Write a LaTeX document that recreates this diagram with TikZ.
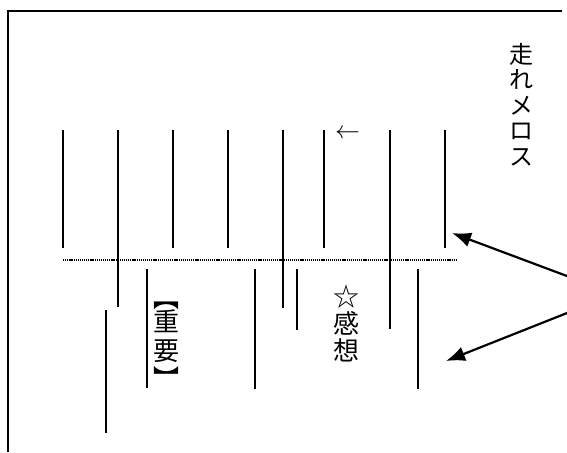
\documentclass[tikz,border=0pt]{standalone}
\usepackage{fontspec}
\newfontfamily\jp{Noto Sans CJK JP}
\usetikzlibrary{arrows.meta}
\begin{document}
\begin{tikzpicture}[x=1pt,y=-1pt,
  rule/.style={line width=2pt},
  frameline/.style={line width=2pt},
  dotline/.style={line width=2.4pt, dash pattern=on 1.2pt off 0.9pt},
  pointer/.style={line width=2.2pt, -{Latex[length=19pt,width=15pt]}},
  jpchar/.style={font=\jp\fontsize{26}{27}\selectfont, inner sep=0pt, anchor=north},
  vtext/.style={jpchar, align=center}]
\useasboundingbox (0,0) rectangle (567,452);
\fill[white] (0,0) rectangle (567,452);
% frame
\draw[frameline] (8,452) -- (8,11) -- (562,11);
% upper ruled lines
\foreach \x/\yb in {63/248,118/307,173/248,228/248,283/308,324/248,390/329,445/248}
  \draw[rule] (\x,130) -- (\x,\yb);
% dotted line
\draw[dotline] (63,260) -- (456,260);
% lower ruled lines
\foreach \x/\ya/\yb in {146.5/269/388,254.6/269/389,297.3/269/330,418.4/269/389,106/310/433}
  \draw[rule] (\x,\ya) -- (\x,\yb);
% texts
\node[vtext, font=\jp\fontsize{24}{25.5}\selectfont] (title) at (521,43) {走\\れ\\メ\\ロ\\ス};
\node[inner sep=0pt, font=\fontsize{30}{30}\selectfont] (larrow) at (347.5,134) {$\leftarrow$};
\node[vtext] (kanso) at (346,285) {☆\\感\\想};
\node[jpchar] (juyoL) at (166,302) {︻};
\node[jpchar] (juyoA) at (166,310) {重};
\node[jpchar] (juyoB) at (166,340) {要};
\node[jpchar] (juyoR) at (166,366) {︼};
% pointers
\coordinate (src) at (615,294);
\coordinate (tip1) at (452,233);
\coordinate (tip2) at (446,361);
\draw[pointer] (src) -- (tip1);
\draw[pointer] (src) -- (tip2);
\end{tikzpicture}
\end{document}
